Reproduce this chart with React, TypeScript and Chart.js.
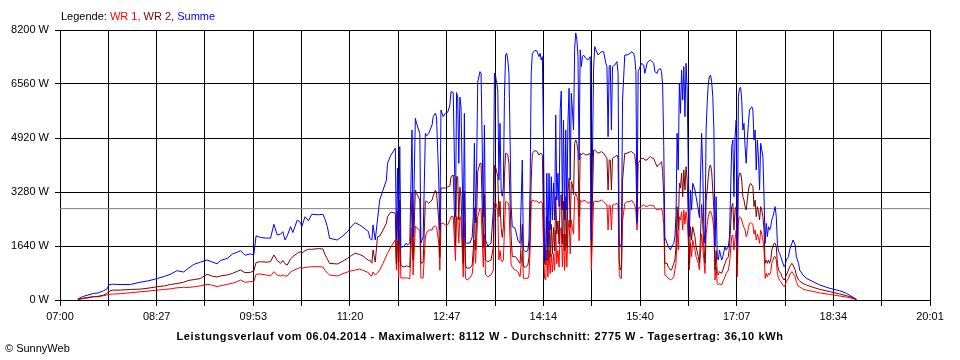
import React, { useEffect, useRef } from "react";
import { Chart, registerables } from "chart.js";

Chart.register(...registerables);

// Messzeitpunkte (HH:MM)
const times: string[] = [
  "07:16","07:20","07:25","07:30","07:34","07:39","07:42","07:44","07:47","07:54",
  "08:03","08:12","08:19","08:27","08:34","08:39","08:45","08:51","08:55","09:00",
  "09:06","09:12","09:17","09:21","09:24","09:30","09:35","09:39","09:42","09:46",
  "09:51","09:54","09:56","10:00","10:05","10:09","10:12","10:15","10:18","10:20",
  "10:22","10:24","10:27","10:29","10:33","10:36","10:37","10:40","10:43","10:46",
  "10:52","10:56","10:58","11:00","11:02","11:09","11:14","11:18","11:22","11:25",
  "11:29","11:32","11:37","11:38","11:40","11:41","11:43","11:45","11:47","11:50",
  "11:53","11:54","11:57","12:01","12:02","12:03","12:04","12:05","12:06","12:08",
  "12:11","12:12","12:14","12:16","12:17","12:19","12:20","12:23","12:24","12:26",
  "12:28","12:29","12:31","12:34","12:35","12:37","12:38","12:40","12:41","12:42",
  "12:44","12:46","12:48","12:50","12:51","12:53","12:55","12:56","12:57","12:58",
  "12:59","13:00","13:02","13:03","13:04","13:05","13:08","13:10","13:11","13:12",
  "13:13","13:14","13:15","13:17","13:18","13:20","13:21","13:22","13:24","13:27",
  "13:29","13:30","13:31","13:33","13:34","13:35","13:36","13:37","13:38","13:39",
  "13:40","13:41","13:42","13:43","13:44","13:45","13:46","13:48","13:49","13:51",
  "13:53","13:55","13:56","13:58","14:00","14:01","14:02","14:03","14:04","14:06",
  "14:08","14:10","14:11","14:12","14:13","14:14","14:15","14:16","14:17","14:18",
  "14:19","14:20","14:21","14:22","14:23","14:24","14:25","14:26","14:27","14:28",
  "14:29","14:30","14:31","14:32","14:33","14:34","14:35","14:36","14:37","14:38",
  "14:39","14:40","14:41","14:42","14:43","14:44","14:45","14:46","14:47","14:48",
  "14:49","14:50","14:52","14:54","14:56","14:57","14:59","15:00","15:03","15:06",
  "15:08","15:10","15:11","15:12","15:13","15:14","15:15","15:16","15:18","15:20",
  "15:21","15:22","15:23","15:24","15:25","15:27","15:29","15:32","15:33","15:35",
  "15:36","15:37","15:38","15:39","15:41","15:42","15:44","15:45","15:47","15:48",
  "15:50","15:51","15:53","15:54","15:56","15:57","15:59","16:00","16:01","16:02",
  "16:03","16:05","16:06","16:08","16:09","16:11","16:12","16:13","16:14","16:15",
  "16:16","16:17","16:18","16:19","16:20","16:21","16:22","16:23","16:24","16:25",
  "16:26","16:27","16:28","16:30","16:31","16:33","16:34","16:36","16:37","16:38",
  "16:39","16:40","16:41","16:42","16:43","16:44","16:45","16:46","16:47","16:48",
  "16:49","16:50","16:51","16:52","16:54","16:55","16:57","16:58","17:00","17:01",
  "17:03","17:04","17:05","17:06","17:07","17:08","17:09","17:10","17:11","17:12",
  "17:13","17:14","17:15","17:16","17:17","17:18","17:19","17:20","17:21","17:22",
  "17:23","17:24","17:25","17:26","17:27","17:28","17:29","17:30","17:31","17:32",
  "17:33","17:34","17:35","17:36","17:37","17:38","17:39","17:40","17:41","17:42",
  "17:43","17:44","17:45","17:46","17:47","17:48","17:50","17:51","17:52","17:54",
  "17:55","17:57","17:58","18:00","18:01","18:03","18:04","18:07","18:10","18:16",
  "18:22","18:31","18:40","18:46","18:51","18:55",
];

// Summe (W)
const summe: number[] = [
  30,100,150,200,210,280,330,460,480,470,
  470,540,580,650,720,780,890,850,960,1080,
  1150,1215,1150,1100,1200,1260,1400,1450,1500,1360,
  1400,1370,1950,1900,1880,1880,2300,1974,2000,2075,
  1822,1950,2226,2050,2430,2350,2226,2530,2410,2603,
  2590,2603,2450,2226,1873,1822,1950,2075,2250,2348,
  2280,2207,2075,1880,1820,2280,1822,2430,3037,3340,
  3640,4150,4400,4610,1822,4000,1730,4657,1610,1610,
  1731,1670,1731,5163,1913,5518,5375,5060,1731,1913,
  5062,4980,5060,5315,5567,5670,5560,3644,2126,5770,
  5567,5670,5700,5920,6327,6300,2530,6300,6160,4150,
  6160,5860,1913,5670,1730,1730,1730,1913,2530,4760,
  2340,4000,6620,6935,6890,2530,5315,1822,1640,1730,
  2733,6885,6800,6378,3640,5365,3340,3150,3430,6175,
  7440,7490,7290,6885,5000,2835,2226,2200,2126,1822,
  1722,4252,1519,1467,1500,1822,3400,6885,7490,7572,
  7572,7390,7490,7290,7390,5060,1215,1215,3848,1620,
  3848,2126,3744,2430,3550,2430,5618,3037,3848,2835,
  5770,6347,2733,5465,2430,5163,2733,5415,6430,3644,
  6277,5770,5163,7640,8112,7896,7400,4252,7600,7087,
  7390,7440,7340,7290,7390,1822,7000,7694,7440,7540,
  7540,7188,7087,4960,7087,7137,5163,7087,7137,7240,
  6885,1722,1620,1722,6074,7440,7440,7490,7540,7490,
  7340,6935,2330,6935,7100,7188,7137,6885,7188,7240,
  7290,7260,7188,6935,6885,6985,7030,6935,6530,4657,
  1900,1722,1620,1519,1620,1722,1913,2600,5060,3948,
  6580,5670,6985,6074,7087,5567,7188,6378,4050,1913,
  3340,2733,3543,3340,3137,2733,2500,5060,3950,2126,
  1722,5163,6000,6580,6783,6833,6630,6175,5163,1620,
  3137,1316,1215,1519,1215,1316,1620,1519,1620,1923,
  4657,4860,3137,4960,5467,1620,6175,6430,6460,6074,
  5163,5365,4657,4150,4860,5365,5770,5820,5870,5770,
  4860,5163,3948,4860,4350,3340,4760,4555,4350,3137,
  1722,2328,1923,2226,2126,2226,2430,2530,2682,2835,
  2530,1722,1467,1420,1316,1215,1012,1063,1215,1316,
  1519,1722,1822,1670,1316,1114,911,759,658,557,
  456,355,280,203,100,20,
];

// WR 2 (W)
const wr2: number[] = [
  20,50,80,100,110,150,200,260,300,300,
  320,330,360,400,430,470,500,540,590,620,
  650,780,720,700,730,760,810,870,910,830,
  840,880,1140,1163,1150,1163,1367,1200,1114,1200,
  1100,1063,1250,1316,1420,1468,1420,1500,1540,1540,
  1560,1550,1367,1250,1114,1093,1180,1266,1360,1418,
  1380,1336,1200,1215,1120,1520,1150,1920,1940,2126,
  2330,2530,2670,2640,1114,2700,1150,3037,1063,1000,
  1030,1030,1000,3250,1215,3340,3250,3037,1114,1150,
  3000,3000,2940,3037,3160,3340,3250,2430,1300,3400,
  3400,3400,3430,3460,3745,3796,1610,3745,3745,2430,
  3430,3130,1114,3300,1063,970,970,1063,1520,2800,
  1520,2530,3900,4150,4150,1600,3200,1215,1160,1215,
  1620,4100,4050,3745,2530,3000,2200,1900,2200,3745,
  4455,4455,4400,4150,3000,1923,1316,1316,1316,1216,
  1114,2300,1012,1000,1063,1300,2000,3644,4455,4535,
  4520,4400,4455,4455,4400,2530,1114,1063,2530,1200,
  2400,1300,2300,1400,2200,1500,3137,2000,2400,1700,
  3137,3200,1700,3000,1500,3137,1600,3300,3700,2200,
  3600,3500,3200,4760,4860,4760,4500,2530,4455,4400,
  4455,4455,4400,4420,4455,1620,4556,4556,4455,4505,
  4455,4350,4300,3340,4252,4252,3340,4300,4350,4400,
  4300,1200,911,1000,3644,4455,4455,4505,4505,4455,
  4400,4050,2430,4150,4252,4300,4300,4252,4252,4300,
  4353,4320,4300,4200,4050,4100,4150,4200,3900,3137,
  1114,1114,1012,911,911,1114,1215,1620,2835,2126,
  3543,3400,3848,3137,3948,3340,4050,3644,2530,1114,
  2226,1822,2226,1923,1620,1316,1114,2900,2300,1620,
  1114,3000,3340,3745,4050,4100,3900,3340,2733,911,
  1500,810,760,860,810,911,1114,1215,1316,1620,
  2835,2936,2126,2733,2835,1114,3644,3848,3848,3644,
  3137,3037,2835,2733,3037,3340,3493,3543,3493,3440,
  2835,3037,2530,2835,2700,2430,2835,2733,2530,2126,
  1114,1215,1114,1215,1114,1215,1519,1620,1722,1722,
  1620,1114,911,860,810,708,607,658,760,911,
  1012,1114,1063,911,760,607,580,500,456,385,
  324,253,182,130,80,15,
];

// WR 1 (W)
const wr1: number[] = [
  10,40,60,100,100,130,150,170,180,190,
  220,250,270,300,320,340,370,385,380,400,
  430,476,450,405,430,476,510,560,607,540,
  557,560,780,790,760,729,860,760,729,760,
  729,729,850,890,950,992,960,992,1000,1012,
  1012,1000,900,820,759,729,800,850,890,910,
  941,900,830,760,730,850,760,820,911,1114,
  1340,1420,1610,1822,911,1800,670,2126,670,670,
  670,670,640,2190,760,2250,2190,2126,670,670,
  1913,2030,2126,2126,2220,2250,2220,1731,900,2330,
  2330,2280,2280,2430,2530,2530,1200,2530,2490,1730,
  2530,2430,700,2330,670,607,670,790,1114,1822,
  1114,1800,2530,2785,2760,1000,2000,760,708,760,
  911,2936,2985,2700,1215,1500,1215,1160,1215,2126,
  2985,2985,2950,2885,1800,1063,1012,911,911,860,
  708,1500,658,658,658,760,1500,2936,3037,3000,
  3010,2936,2985,2985,2936,1722,658,607,1519,700,
  1519,800,1400,850,1400,900,2126,1100,1500,1000,
  2126,2200,1000,2000,900,2000,1000,2100,2430,1400,
  2430,2200,2000,3137,3240,3137,3000,1800,3037,2985,
  2985,3037,3000,2936,2985,911,2985,3000,2985,3037,
  2985,2900,2885,2126,2885,2860,2126,2885,2900,2936,
  2885,800,658,658,2400,2936,2985,2985,3037,2936,
  2885,2700,2126,2785,2830,2850,2885,2860,2830,2860,
  2885,2870,2860,2800,2733,2750,2770,2770,2650,2300,
  760,708,658,620,620,708,911,1114,2126,1519,
  2530,2430,2682,2126,2733,2300,2682,2430,1822,911,
  1722,1316,1822,1519,1316,1114,911,2000,1600,1215,
  810,2000,2300,2530,2682,2700,2600,2430,2126,607,
  1000,500,456,500,456,557,708,810,911,1114,
  1923,1974,1519,1822,2126,708,2430,2530,2500,2430,
  2300,2200,2126,1923,2000,2200,2328,2350,2328,2300,
  2000,2126,1822,2000,1900,1722,2126,2000,1822,1519,
  658,810,708,810,760,860,1114,1215,1316,1316,
  1215,810,658,600,560,500,405,456,557,658,
  760,860,810,700,557,405,400,330,300,260,
  215,170,121,90,50,10,
];

const xTickLabels: string[] = ["07:00","08:27","09:53","11:20","12:47","14:14","15:40","17:07","18:34","20:01"];
const yTickValues: number[] = [0, 1640, 3280, 4920, 6560, 8200];
const axisStart = "07:00";
const axisEnd = "20:01";
const durchschnitt = 2775;

const toMin = (t: string) => {
  const [h, m] = t.split(":").map(Number);
  return h * 60 + m;
};

const FONT = '"Liberation Sans", Arial, sans-serif';

export default function App() {
  const ref = useRef<HTMLCanvasElement | null>(null);

  useEffect(() => {
    if (!ref.current) return;
    const xMin = toMin(axisStart);
    const xMax = toMin(axisEnd);
    const gridCount = (xTickLabels.length - 1) * 2;
    const series = (vals: number[]) => times.map((t, i) => ({ x: toMin(t), y: vals[i] }));
    const lineBase = { borderWidth: 1, pointRadius: 0, tension: 0, fill: false };

    const chart = new Chart(ref.current, {
      type: "line",
      data: {
        datasets: [
          { ...lineBase, label: "Summe", data: series(summe), borderColor: "#0000ff", order: 1 },
          { ...lineBase, label: "WR 2", data: series(wr2), borderColor: "#800000", order: 2 },
          { ...lineBase, label: "WR 1", data: series(wr1), borderColor: "#ff0000", order: 3 },
          {
            ...lineBase,
            label: "Durchschnitt",
            data: [{ x: xMin, y: durchschnitt }, { x: xMax, y: durchschnitt }],
            borderColor: "#808080",
            order: 4,
          },
        ],
      },
      options: {
        responsive: false,
        animation: false,
        events: [],
        layout: { padding: { left: 0, right: 30, top: 30, bottom: 0 } },
        plugins: {
          legend: { display: false },
          tooltip: { enabled: false },
          title: { display: false },
        },
        scales: {
          x: {
            type: "linear",
            min: xMin,
            max: xMax,
            afterBuildTicks: (s: any) => {
              s.ticks = Array.from({ length: gridCount + 1 }, (_, i) => ({
                value: xMin + (i * (xMax - xMin)) / gridCount,
              }));
            },
            afterFit: (s: any) => {
              s.height = 60;
            },
            ticks: {
              autoSkip: false,
              maxRotation: 0,
              padding: 4,
              color: "#000",
              font: { family: FONT, size: 11 },
              callback: (_v: any, i: number) => (i % 2 === 0 ? xTickLabels[i / 2] : ""),
            },
            grid: { color: "#000", lineWidth: 1, tickLength: 6, drawTicks: true },
            border: { display: true, color: "#000", width: 1 },
          },
          y: {
            type: "linear",
            min: 0,
            max: 8200,
            afterBuildTicks: (s: any) => {
              s.ticks = yTickValues.map((v) => ({ value: v }));
            },
            afterFit: (s: any) => {
              s.width = 60;
            },
            ticks: {
              padding: 6,
              color: "#000",
              font: { family: FONT, size: 11 },
              callback: (v: any) => `${v} W`,
            },
            grid: { color: "#000", lineWidth: 1, tickLength: 5, drawTicks: true },
            border: { display: true, color: "#000", width: 1 },
          },
        },
      },
    } as any);
    return () => chart.destroy();
  }, []);

  return (
    <div style={{ position: "absolute", left: 0, top: 0, width: 960, height: 360, background: "#fff" }}>
      <canvas ref={ref} width={960} height={360} style={{ position: "absolute", left: 0, top: 0 }} />
      <div
        style={{
          position: "absolute",
          left: 61,
          top: 10,
          font: `11px ${FONT}`,
          lineHeight: "13px",
          whiteSpace: "nowrap",
          color: "#000",
        }}
      >
        Legende: <span style={{ color: "#ff0000" }}>WR 1,</span>{" "}
        <span style={{ color: "#800000" }}>WR 2,</span>{" "}
        <span style={{ color: "#0000ff" }}>Summe</span>
      </div>
      <div
        style={{
          position: "absolute",
          left: 0,
          top: 330,
          width: 960,
          textAlign: "center",
          font: `bold 11px ${FONT}`,
          letterSpacing: "0.6px",
          lineHeight: "13px",
          whiteSpace: "nowrap",
          color: "#000",
        }}
      >
        Leistungsverlauf vom 06.04.2014 - Maximalwert: 8112 W - Durchschnitt: 2775 W - Tagesertrag: 36,10 kWh
      </div>
      <div
        style={{
          position: "absolute",
          left: 5,
          top: 342,
          font: `11px ${FONT}`,
          lineHeight: "13px",
          whiteSpace: "nowrap",
          color: "#000",
        }}
      >
        © SunnyWeb
      </div>
    </div>
  );
}
